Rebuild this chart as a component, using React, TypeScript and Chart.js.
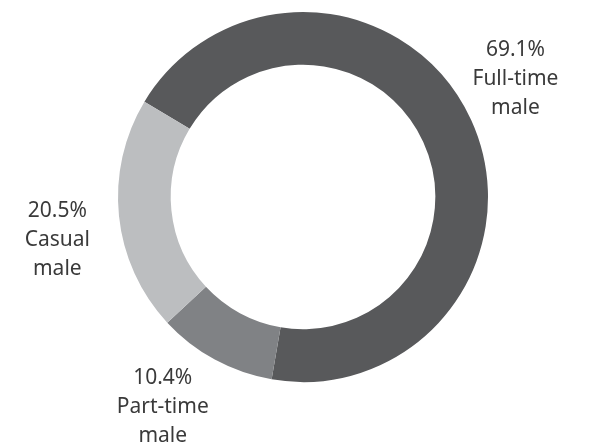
import React, { useEffect, useRef } from "react";
import { Chart, registerables } from "chart.js";

Chart.register(...registerables);

const categories = ["Full-time male", "Part-time male", "Casual male"];
const values = [69.1, 10.4, 20.5];
const labelLines = [
  ["69.1%", "Full-time", "male"],
  ["10.4%", "Part-time", "male"],
  ["20.5%", "Casual", "male"],
];
const colors = ["#58595b", "#808285", "#bcbec0"];

const labelPlugin = {
  id: "outerLabels",
  afterDatasetsDraw(chart: any, _args: any, opts: any) {
    const ctx = chart.ctx;
    const meta = chart.getDatasetMeta(0);
    ctx.save();
    ctx.font = `${opts.fontSize}px ${opts.fontFamily}`;
    ctx.fillStyle = opts.color;
    ctx.textAlign = "center";
    ctx.textBaseline = "alphabetic";
    meta.data.forEach((arc: any, i: number) => {
      const p = arc.getProps(["x", "y", "startAngle", "endAngle"], true);
      const mid = (p.startAngle + p.endAngle) / 2;
      const nudge = opts.nudges[i] || [0, 0];
      const cx = p.x + Math.cos(mid) * opts.radius + nudge[0];
      const cy = p.y + Math.sin(mid) * opts.radius + nudge[1];
      const lines = labelLines[i];
      lines.forEach((ln: string, k: number) => {
        ctx.fillText(ln, cx, cy + (k - 1) * opts.lineHeight);
      });
    });
    ctx.restore();
  },
};

export default function App() {
  const ref = useRef<HTMLCanvasElement | null>(null);
  useEffect(() => {
    document.body.style.margin = "0";
    const chart = new Chart(ref.current!, {
      type: "doughnut",
      data: {
        labels: categories,
        datasets: [
          {
            data: values,
            backgroundColor: colors,
            borderWidth: 0,
          },
        ],
      },
      options: {
        responsive: false,
        animation: false,
        rotation: -59,
        cutout: "71.5%",
        layout: { padding: { left: 118, right: 107, top: 12, bottom: 64 } },
        plugins: {
          legend: { display: false },
          tooltip: { enabled: false },
          outerLabels: {
            radius: 248,
            fontSize: 21,
            fontFamily: "'Noto Sans', sans-serif",
            color: "#3a3a3a",
            lineHeight: 29,
            nudges: [
              [-13, -9],
              [-22, -2],
              [1, 24],
            ],
          },
        } as any,
      },
      plugins: [labelPlugin],
    });
    return () => chart.destroy();
  }, []);
  return (
    <div style={{ position: "fixed", left: 0, top: 0, width: 595, height: 446, background: "#fff" }}>
      <canvas ref={ref} width={595} height={446} />
    </div>
  );
}
